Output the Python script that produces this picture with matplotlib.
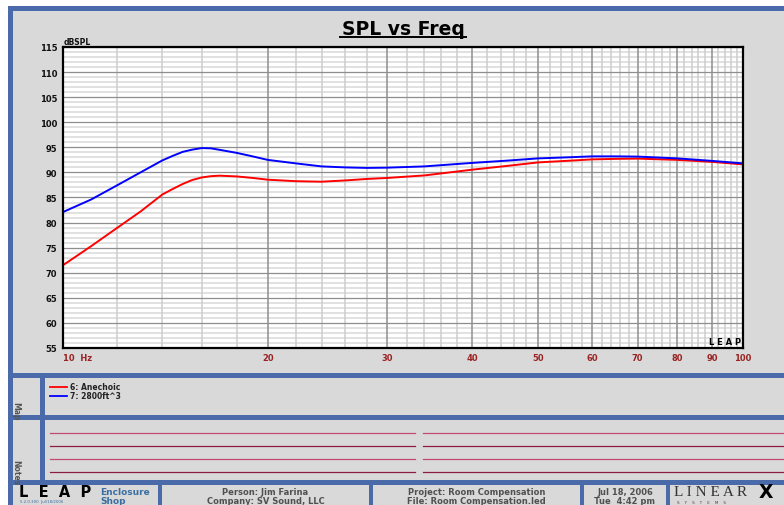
import matplotlib
matplotlib.use("Agg")
import matplotlib.pyplot as plt
from matplotlib.patches import Rectangle

# Data
freq = [10, 11, 12, 13, 14, 14.5, 15, 15.5, 16, 16.5, 17, 18, 19, 20, 22, 24,
        26, 28, 30, 34, 40, 45, 50, 55, 60, 65, 70, 80, 90, 100]
anechoic = [71.5, 75.3, 78.9, 82.2, 85.6, 86.7, 87.7, 88.5, 89.0, 89.25, 89.35,
            89.2, 88.9, 88.55, 88.25, 88.15, 88.4, 88.7, 88.9, 89.4, 90.55,
            91.3, 92.0, 92.3, 92.6, 92.7, 92.75, 92.5, 92.1, 91.6]
room = [82.1, 84.6, 87.4, 90.0, 92.4, 93.3, 94.1, 94.55, 94.85, 94.8, 94.5,
        93.9, 93.2, 92.5, 91.8, 91.2, 91.0, 90.9, 90.95, 91.2, 91.9, 92.35,
        92.8, 93.0, 93.2, 93.2, 93.15, 92.8, 92.3, 91.8]
series_labels = ["6: Anechoic", "7: 2800ft^3"]
x_major = [10, 20, 30, 40, 50, 60, 70, 80, 90, 100]
x_labels = ["10  Hz", "20", "30", "40", "50", "60", "70", "80", "90", "100"]
y_major = list(range(55, 116, 5))

W, H = 784, 506
BLUE = "#4A6AAA"
GREY = "#D9D9D9"

fig = plt.figure(figsize=(W / 100, H / 100), dpi=100)
fig.patch.set_facecolor("white")

# background frame in pixel coordinates
bg = fig.add_axes([0, 0, 1, 1], zorder=0)
bg.set_xlim(0, W)
bg.set_ylim(H, 0)
bg.axis("off")


def box(x0, y0, x1, y1, color):
    bg.add_patch(Rectangle((x0, y0), x1 - x0, y1 - y0, color=color, lw=0))


box(8, 7, W, H, GREY)
box(8, 7, W, 11.5, BLUE)
box(8, 7, 13, H, BLUE)
box(8, 374, W, 379, BLUE)
box(8, 416, W, 421, BLUE)
box(8, 481, W, 486, BLUE)
box(40.5, 379, 45, 481, BLUE)
for xv in [158, 369, 580, 666.5]:
    box(xv, 486, xv + 4, H, BLUE)

# title
bg.text(403, 29, "SPL vs Freq", ha="center", va="center", fontsize=13.5,
        fontweight="bold", color="black")
bg.plot([340, 466], [37.5, 37.5], color="black", lw=1.4)
bg.text(63.5, 42.5, "dBSPL", ha="left", va="center", fontsize=5.5,
        fontweight="bold", color="#111111")

# legend (Map panel)
bg.plot([50, 67.5], [387.5, 387.5], color="#FF0000", lw=1.3)
bg.plot([50, 67.5], [397, 397], color="#0000FF", lw=1.3)
bg.text(70.5, 387.5, series_labels[0], ha="left", va="center", fontsize=5.5,
        fontweight="bold", color="#222222")
bg.text(70.5, 397, series_labels[1], ha="left", va="center", fontsize=5.5,
        fontweight="bold", color="#222222")
bg.text(16, 411, "Map", rotation=-90, ha="center", va="center", fontsize=5.5,
        fontweight="bold", color="#555555", zorder=5)
bg.text(16, 473, "Notes", rotation=-90, ha="center", va="center", fontsize=5.5,
        fontweight="bold", color="#555555", zorder=5)

# notes lines
for yv, c in zip([434.3, 447.3, 460.3, 473.3],
                 ["#C04A72", "#8B1E3E", "#C04A72", "#8B1E3E"]):
    bg.plot([50, 415], [yv, yv], color=c, lw=0.9)
    bg.plot([423, W], [yv, yv], color=c, lw=0.9)

# footer
bg.text(19, 493, "L  E  A  P", ha="left", va="center", fontsize=10.5,
        fontweight="heavy", color="black")
bg.text(20, 502.5, "5.2.0.300  Jul/18/2006", ha="left", va="center",
        fontsize=2.8, color="#3A6EA0")
bg.text(100, 492.5, "Enclosure", ha="left", va="center", fontsize=6.5,
        fontweight="bold", color="#3A6EA0")
bg.text(100, 501.7, "Shop", ha="left", va="center", fontsize=6.5,
        fontweight="bold", color="#3A6EA0")
footer = [(265.5, "Person: Jim Farina", "Company: SV Sound, LLC"),
          (476.5, "Project: Room Compensation", "File: Room Compensation.led"),
          (625, "Jul 18, 2006", "Tue  4:42 pm")]
for xc, l1, l2 in footer:
    bg.text(xc, 492.5, l1, ha="center", va="center", fontsize=6,
            fontweight="bold", color="#505050")
    bg.text(xc, 501.7, l2, ha="center", va="center", fontsize=6,
            fontweight="bold", color="#505050")
bg.text(674, 493, "L I N E A R", ha="left", va="center", fontsize=11,
        family="Liberation Serif", color="#333333")
bg.text(759, 492.5, "X", ha="left", va="center", fontsize=13.5,
        fontweight="heavy", color="black")
bg.text(677, 503, "S    Y    S    T    E    M    S", ha="left", va="center",
        fontsize=3, color="#6A3050")

# main plot
ax = fig.add_axes([63 / W, (H - 349) / H, 680 / W, 301 / H], zorder=1)
ax.set_facecolor("white")
ax.set_xscale("log")
ax.set_xlim(10, 100)
ax.set_ylim(55, 115)

x_minor = [v for v in range(12, 100, 2) if v % 10]
ax.set_xticks(x_major)
ax.set_xticks(x_minor, minor=True)
ax.set_xticklabels(x_labels)
ax.set_yticks(y_major)
ax.set_yticks(range(55, 116), minor=True)
ax.tick_params(which="both", length=0)
ax.tick_params(axis="x", which="major", labelsize=6, labelcolor="#9B2323", pad=3.5)
ax.tick_params(axis="y", which="major", labelsize=6, labelcolor="#111111", pad=4)
ax.tick_params(which="minor", labelbottom=False, labelleft=False)
for lab in ax.get_xticklabels() + ax.get_yticklabels():
    lab.set_fontweight("bold")
ax.get_xticklabels()[0].set_horizontalalignment("left")

# grid drawn by hand so the darker lines sit on top of the light ones
for v in range(55, 116):
    if v % 5:
        ax.axhline(v, color="#D8D8D8", lw=1.1, zorder=0.5)
for v in x_minor:
    ax.axvline(v, color="#CDCDCD", lw=1.1, zorder=0.6)
for v in y_major:
    ax.axhline(v, color="#8E8E8E", lw=0.9, zorder=0.7)
for v in x_major:
    ax.axvline(v, color="#8E8E8E", lw=1.1, zorder=0.8)

for s in ax.spines.values():
    s.set_linewidth(1.6)
    s.set_color("black")

ax.plot(freq, anechoic, color="#FF0000", lw=1.4, zorder=2)
ax.plot(freq, room, color="#0000FF", lw=1.4, zorder=2)

ax.text(0.997, 0.008, "L E A P", transform=ax.transAxes, ha="right",
        va="bottom", fontsize=6, fontweight="heavy", color="black", zorder=3)

fig.savefig("out.png", dpi=100)
